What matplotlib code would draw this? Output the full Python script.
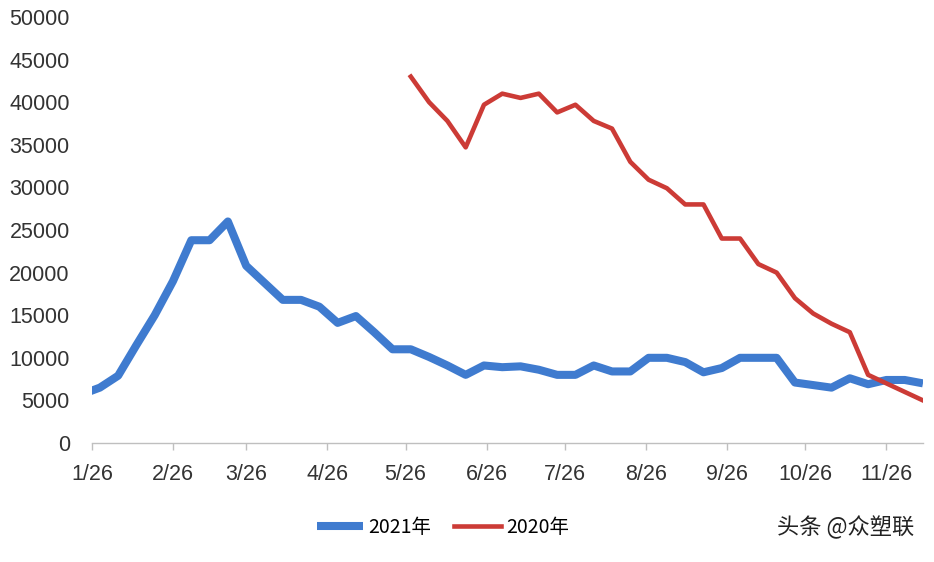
import numpy as np
import pandas as pd
import matplotlib
matplotlib.use("Agg")
import matplotlib.pyplot as plt
import matplotlib.dates as mdates

plt.rcParams['font.family'] = ['Liberation Sans', 'Noto Sans CJK SC', 'DejaVu Sans']

# weekly data, 2021 series starts 1/22 (clipped by the axis at 1/26)
dates_2021 = pd.date_range('2021-01-22', '2021-12-10', freq='7D')
vals_2021 = [5700, 6500, 7900, 11500, 15000, 19000, 23800, 23800, 26000, 20800,
             18800, 16800, 16800, 16000, 14100, 14900, 13000, 11000, 11000, 10100,
             9100, 8000, 9100, 8900, 9000, 8600, 8000, 8000, 9100, 8400,
             8400, 10000, 10000, 9500, 8300, 8800, 10000, 10000, 10000, 7100,
             6800, 6500, 7600, 6900, 7400, 7400, 7000]

# 2020 series, plotted on the same calendar weeks
dates_2020 = pd.date_range('2021-05-28', '2021-12-10', freq='7D')
vals_2020 = [43000, 40000, 37800, 34700, 39700, 41000, 40500, 41000, 38800, 39700,
             37800, 36900, 33000, 30900, 29900, 28000, 28000, 24000, 24000, 21000,
             20000, 17000, 15200, 14000, 13000, 8000, 7000, 6000, 5000]

tick_dates = pd.to_datetime(['2021-%02d-26' % m for m in range(1, 12)])
tick_labels = ['%d/26' % m for m in range(1, 12)]
y_ticks = list(range(0, 50001, 5000))

fig = plt.figure(figsize=(9.34, 5.62), dpi=100)
ax = fig.add_axes([0.0985, 0.2117, 0.8897, 0.7581])

ax.plot(dates_2021, vals_2021, color='#3F7BCF', lw=5.8, solid_joinstyle='round',
        solid_capstyle='butt', label='2021年', zorder=2)
ax.plot(dates_2020, vals_2020, color='#CC3B36', lw=3.3, solid_joinstyle='round',
        label='2020年', zorder=3)

ax.set_xlim(pd.Timestamp('2021-01-26'), pd.Timestamp('2021-12-10'))
ax.set_ylim(0, 50000)
ax.set_xticks(tick_dates)
ax.set_xticklabels(tick_labels)
ax.set_yticks(y_ticks)
ax.set_yticklabels([str(v) for v in y_ticks])

for s in ['top', 'right', 'left']:
    ax.spines[s].set_visible(False)
ax.spines['bottom'].set_color('#BFBFBF')
ax.spines['bottom'].set_linewidth(1.0)
ax.tick_params(axis='x', colors='#BFBFBF', length=5, width=1, direction='out',
               labelcolor='#333333', labelsize=15.5, pad=10)
ax.tick_params(axis='y', length=0, labelcolor='#333333', labelsize=15.5, pad=16)

fig.legend(loc='center', bbox_to_anchor=(0.474, 0.062), ncol=2, frameon=False,
           prop={'family': ['Noto Sans CJK SC'], 'size': 14},
           handlelength=2.4, handletextpad=0.25, columnspacing=1.2)

fig.text(0.979, 0.062, '头条 @众塑联', ha='right', va='center', fontsize=16,
         family=['Noto Sans CJK SC', 'DejaVu Sans'], color='#222222')

fig.savefig('out.png', dpi=100, facecolor='white')
